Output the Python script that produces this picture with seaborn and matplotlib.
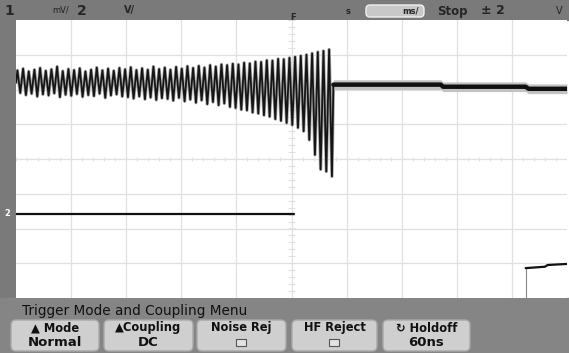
import numpy as np
import matplotlib
matplotlib.use("Agg")
import matplotlib.pyplot as plt
import seaborn as sns
from matplotlib.patches import Rectangle, FancyBboxPatch


# DATA (time and volts in screen divisions, trigger at t = 0)
# channel 1: per-cycle peak / trough of the ringing before the trigger
ch1_tops = [
    2.55, 2.60, 2.52, 2.57, 2.62, 2.54, 2.58, 2.66, 2.53, 2.59, 2.56, 2.61,
    2.52, 2.57, 2.63, 2.55, 2.60, 2.54, 2.62,
    2.58, 2.64, 2.56, 2.61, 2.57, 2.66, 2.59, 2.63, 2.57, 2.65, 2.60, 2.67,
    2.62, 2.68, 2.63, 2.70, 2.66, 2.72,
    2.70, 2.74, 2.72, 2.77, 2.75, 2.80, 2.79, 2.84, 2.83, 2.88, 2.87, 2.91,
    2.94, 2.97, 3.00, 3.04, 3.08, 3.11, 3.15,
]
ch1_bottoms = [
    1.90, 1.84, 1.88, 1.80, 1.86, 1.83, 1.89, 1.78, 1.85, 1.82, 1.87, 1.79,
    1.84, 1.81, 1.88, 1.76, 1.83, 1.86, 1.80,
    1.78, 1.74, 1.80, 1.72, 1.77, 1.70, 1.75, 1.73, 1.68, 1.76, 1.66, 1.71,
    1.62, 1.69, 1.58, 1.64, 1.55, 1.60,
    1.50, 1.47, 1.42, 1.40, 1.34, 1.31, 1.26, 1.22, 1.15, 1.10, 1.04, 0.98,
    0.90, 0.80, 0.55, 0.12, -0.30, -0.36, -0.50,
]
ch1_ring_start = -5.0
ch1_ring_end = 0.76

# channel 1: level after the ringing stops
ch1_flat_t = [0.76, 2.71, 2.75, 4.25, 4.30, 5.0]
ch1_flat_v = [2.14, 2.14, 2.08, 2.08, 2.02, 2.02]

# channel 2
ch2_a_t = [-5.0, 0.04]
ch2_a_v = [-1.57, -1.57]
ch2_b_t = [4.25, 4.60, 4.65, 5.0]
ch2_b_v = [-3.14, -3.10, -3.05, -3.02]

top_labels = ["1", "mV/", "2", "V/", "s", "ms/", "Stop", "± 2", "V"]
menu_title = "Trigger Mode and Coupling Menu"
buttons = [("▲ Mode", "Normal"), ("▲Coupling", "DC"), ("Noise Rej", ""),
           ("HF Reject", ""), ("↻ Holdoff", "60ns")]


# BUILD THE RINGING TRACE
n = len(ch1_tops)
period = (ch1_ring_end - ch1_ring_start) / n
idx = np.arange(n)
t_ring = np.empty(2 * n)
v_ring = np.empty(2 * n)
t_ring[0::2] = ch1_ring_start + period * (idx + 0.25)
t_ring[1::2] = ch1_ring_start + period * (idx + 0.75)
v_ring[0::2] = ch1_tops
v_ring[1::2] = ch1_bottoms
t_ring = np.concatenate([[ch1_ring_start], t_ring, [ch1_ring_end]])
v_ring = np.concatenate([[2.2], v_ring, [ch1_flat_v[0]]])


# FIGURE
sns.set_style("white")
plt.rcParams["font.family"] = ["DejaVu Sans"]

W, H = 569, 353
fig = plt.figure(figsize=(W / 100, H / 100), dpi=100)

bg = fig.add_axes([0, 0, 1, 1], zorder=0)
bg.set_xlim(0, W)
bg.set_ylim(H, 0)
bg.axis("off")

panel = "#7a7a7a"
bg.add_patch(Rectangle((0, 0), W, 20, color=panel))
bg.add_patch(Rectangle((0, 0), 16, H, color=panel))
bg.add_patch(Rectangle((0, 298), W, H - 298, color="#858585"))

# top status bar
bg.text(4, 11, top_labels[0], fontsize=10, fontweight="bold", va="center")
bg.text(52, 10, top_labels[1], fontsize=6, va="center", color="#222222")
bg.text(77, 11, top_labels[2], fontsize=10, fontweight="bold", va="center")
bg.text(124, 10, top_labels[3], fontsize=7, fontweight="bold", va="center")
bg.text(346, 11, top_labels[4], fontsize=6, fontweight="bold", va="center")
bg.add_patch(FancyBboxPatch((366, 5), 58, 12,
                            boxstyle="round,pad=0,rounding_size=4",
                            facecolor="#c8c8c8", edgecolor="#f0f0f0", lw=1))
bg.text(402, 11, top_labels[5], fontsize=6, fontweight="bold", va="center")
bg.text(437, 11, top_labels[6], fontsize=8.5, fontweight="bold", va="center")
bg.text(481, 11, top_labels[7], fontsize=9, fontweight="bold", va="center")
bg.text(556, 11, top_labels[8], fontsize=7, va="center")
bg.text(290, 18, "F", fontsize=6, fontweight="bold", va="center")

# left markers
bg.text(4, 214, "2", fontsize=6, color="white", va="center", fontweight="bold")

# bottom menu
bg.text(22, 311, menu_title, fontsize=9.8, va="center", color="#111111")
btn_x = [11, 104, 197, 292, 383]
btn_w = [88, 89, 89, 85, 87]
for (l1, l2), x0, w in zip(buttons, btn_x, btn_w):
    bg.add_patch(FancyBboxPatch((x0, 320), w, 31,
                                boxstyle="round,pad=0,rounding_size=5",
                                facecolor="#cfcfcf", edgecolor="#a8a8a8", lw=1))
    cx = x0 + w / 2
    bg.text(cx, 328, l1, fontsize=8.3, fontweight="bold", ha="center",
            va="center", color="#111111")
    if l2:
        bg.text(cx, 342, l2, fontsize=9.5, fontweight="bold", ha="center",
                va="center", color="#111111")
    else:
        bg.add_patch(Rectangle((cx - 5, 339), 10, 7, facecolor="#e2e2e2",
                               edgecolor="#555555", lw=0.8))

# SCREEN
ax = fig.add_axes([16 / W, 55 / H, 551 / W, 278 / H], zorder=1)
ax.set_facecolor("white")
ax.set_xlim(-5, 5)
ax.set_ylim(-4, 4)
ax.set_xticks([])
ax.set_yticks([])
for s in ax.spines.values():
    s.set_visible(False)

grid_c = "#e0e0e0"
for t in range(-4, 5):
    ax.axvline(t, color=grid_c, lw=0.9, zorder=0)
for v in range(-3, 4):
    ax.axhline(v, color=grid_c, lw=0.9, zorder=0)
minor = np.arange(-5, 5.01, 0.2)
ax.vlines(minor, -0.06, 0.06, color=grid_c, lw=0.8, zorder=0)
ax.hlines(np.arange(-4, 4.01, 0.2), -0.06, 0.06, color=grid_c, lw=0.8, zorder=0)

# channel 1 persistence + trace
sns.lineplot(x=t_ring, y=v_ring, sort=False, estimator=None, ax=ax,
             color="#a8a8a8", lw=2.4, zorder=2)
sns.lineplot(x=t_ring, y=v_ring, sort=False, estimator=None, ax=ax,
             color="#151515", lw=1.3, zorder=3)
ax.fill_between(ch1_flat_t, np.array(ch1_flat_v) - 0.14,
                np.array(ch1_flat_v) + 0.14, color="#c2c2c2", lw=0, zorder=2)
sns.lineplot(x=ch1_flat_t, y=ch1_flat_v, sort=False, estimator=None, ax=ax,
             color="#101010", lw=3.2, zorder=3)

# channel 2
sns.lineplot(x=ch2_a_t, y=ch2_a_v, sort=False, estimator=None, ax=ax,
             color="#101010", lw=1.6, zorder=3)
ax.plot([ch2_b_t[0], ch2_b_t[0]], [-4, ch2_b_v[0]], color="#888888", lw=0.8,
        zorder=3)
sns.lineplot(x=ch2_b_t, y=ch2_b_v, sort=False, estimator=None, ax=ax,
             color="#101010", lw=1.6, zorder=3)

ax.set_xlabel("")
ax.set_ylabel("")

plt.savefig("out.png", dpi=100)
